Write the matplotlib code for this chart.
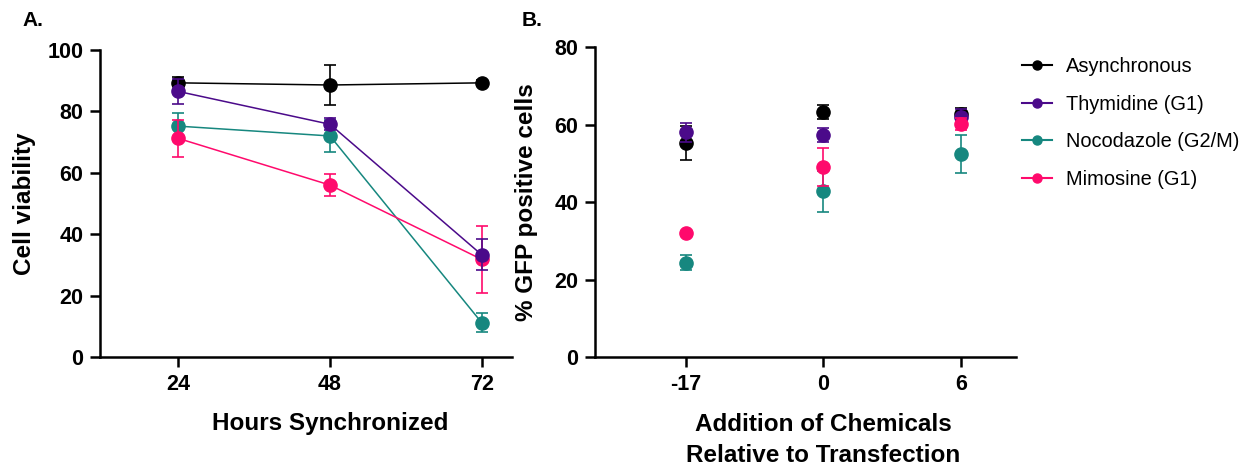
import numpy as np
import matplotlib
matplotlib.use("Agg")
import matplotlib.pyplot as plt
from matplotlib.lines import Line2D

plt.rcParams['font.family'] = ['Liberation Sans', 'DejaVu Sans']

# series names and colours
groups = ['Asynchronous', 'Thymidine (G1)', 'Nocodazole (G2/M)', 'Mimosine (G1)']
colors = ['#000000', '#4B0A8A', '#16877F', '#FF0A6C']

# panel A: cell viability vs hours synchronized
hours = [24, 48, 72]
viab = [[89.3, 88.6, 89.3],
        [86.5, 75.8, 33.3],
        [75.2, 72.0, 11.2],
        [71.2, 56.0, 31.8]]
viab_err = [[2.0, 6.4, 0.8],
            [4.0, 2.0, 5.0],
            [4.2, 5.2, 3.0],
            [6.0, 3.5, 11.0]]

# panel B: % GFP positive cells vs time of chemical addition
times = ['-17', '0', '6']
gfp = [[55.2, 63.2, 62.7],
       [58.0, 57.2, 62.0],
       [24.3, 42.8, 52.4],
       [32.1, 49.1, 60.2]]
gfp_err = [[4.4, 1.8, 1.5],
           [2.4, 1.8, 2.0],
           [1.9, 5.3, 4.9],
           [0.0, 4.9, 1.5]]

W, H = 1244, 465
fig = plt.figure(figsize=(W / 100, H / 100), dpi=100)

axA = fig.add_axes([100 / W, 1 - 357 / H, 412 / W, 307 / H])
axB = fig.add_axes([595 / W, 1 - 357 / H, 421 / W, 310 / H])

zA = [3, 5, 2, 4]
for i in range(4):
    axA.errorbar(hours, viab[i], yerr=viab_err[i], color=colors[i], marker='o',
                 markersize=9.5, linewidth=1.1, elinewidth=1.2, capsize=4.5,
                 capthick=1.2, zorder=zA[i], clip_on=False)

xB = np.arange(len(times))
for i in range(4):
    axB.errorbar(xB, gfp[i], yerr=gfp_err[i], color=colors[i], marker='o',
                 markersize=9.5, linestyle='none', elinewidth=1.2, capsize=4.5,
                 capthick=1.2, zorder=3 + i, clip_on=False)

axA.set_xlim(11.6, 76.8)
axA.set_ylim(0, 100)
axA.set_xticks(hours)
axA.set_yticks([0, 20, 40, 60, 80, 100])

axB.set_xlim(-0.66, 2.4)
axB.set_ylim(0, 80)
axB.set_xticks(xB)
axB.set_xticklabels(times)
axB.set_yticks([0, 20, 40, 60, 80])

for ax in (axA, axB):
    for s in ('top', 'right'):
        ax.spines[s].set_visible(False)
    for s in ('left', 'bottom'):
        ax.spines[s].set_linewidth(1.8)
    ax.tick_params(width=1.8, length=7, labelsize=15.5, pad=5)
    for lab in ax.get_xticklabels() + ax.get_yticklabels():
        lab.set_fontweight('bold')

fig.text(25 / W, 1 - 204 / H, 'Cell viability', rotation=90, ha='center',
         va='center', fontsize=17.5, fontweight='bold')
fig.text(330 / W, 1 - 423 / H, 'Hours Synchronized', ha='center', va='center',
         fontsize=17.5, fontweight='bold')
fig.text(527 / W, 1 - 202 / H, '% GFP positive cells', rotation=90, ha='center',
         va='center', fontsize=17.5, fontweight='bold')
fig.text(823 / W, 1 - 440 / H, 'Addition of Chemicals\nRelative to Transfection',
         ha='center', va='center', fontsize=17.5, fontweight='bold',
         linespacing=1.45)

fig.text(22 / W, 1 - 21 / H, 'A.', ha='left', va='center', fontsize=15,
         fontweight='bold')
fig.text(522 / W, 1 - 21 / H, 'B.', ha='left', va='center', fontsize=15,
         fontweight='bold')

handles = [Line2D([], [], color=c, marker='o', markersize=6.5, linewidth=1.5)
           for c in colors]
fig.legend(handles, groups, loc='upper left', bbox_to_anchor=(1022 / W, 1 - 57 / H),
           frameon=False, fontsize=14.4, handlelength=1.48, handletextpad=0.72,
           labelspacing=0.93, borderpad=0, borderaxespad=0)

fig.savefig('out.png', dpi=100)
